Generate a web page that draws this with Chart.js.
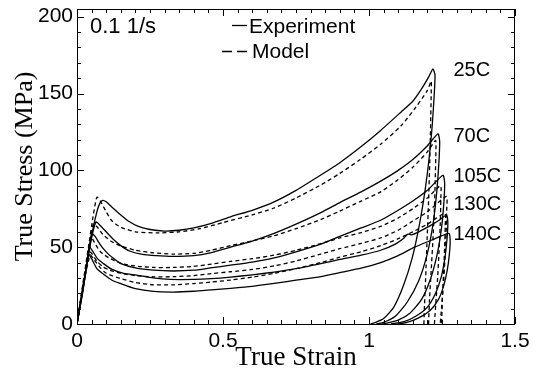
<!DOCTYPE html>
<html lang="en">
<head>
<meta charset="UTF-8">
<title>True Stress vs True Strain</title>
<script src="https://cdn.jsdelivr.net/npm/chart.js"></script>
<style>
  body { margin: 0; background: #fff; }
</style>
</head>
<body>
<canvas id="stress-chart" width="533" height="375"></canvas>
<script>
// axis ticks
const strainTicks = [0, 0.5, 1, 1.5];
const stressTicks = [0, 50, 100, 150, 200];

// temperatures
const tempLabels = ['25C', '70C', '105C', '130C', '140C'];

// [true strain, true stress MPa]
const exp25 = [[0,0],[0.02,24],[0.04,46],[0.055,62],[0.068,73],[0.078,78.5],[0.088,80.5],[0.1,79.5],[0.12,76],[0.15,71],[0.18,66.5],[0.21,63.5],[0.25,61.5],[0.3,60.5],[0.35,61],[0.4,62.5],[0.46,65.5],[0.53,70],[0.6,74],[0.675,79.5],[0.75,87],[0.835,97],[0.9,105],[0.97,115],[1.04,126],[1.11,138],[1.15,145],[1.18,153],[1.205,161],[1.219,166],[1.226,162],[1.223,148],[1.216,128],[1.206,108],[1.192,87],[1.172,64],[1.148,43],[1.118,25],[1.085,11],[1.05,3.5],[1.02,0.8],[1.005,0]];
const mod25 = [[0,0],[0.02,26],[0.04,51],[0.055,70],[0.068,82.5],[0.08,80],[0.1,73],[0.12,67],[0.15,63],[0.2,60],[0.28,59.3],[0.35,60],[0.42,62],[0.5,66],[0.6,71],[0.675,75.5],[0.75,82],[0.835,90.5],[0.9,98],[0.97,107],[1.04,117],[1.11,129],[1.16,141],[1.2,152],[1.213,158],[1.213,150],[1.211,130],[1.208,105],[1.204,80],[1.199,55],[1.194,30],[1.19,12],[1.188,0]];

const exp70 = [[0,0],[0.02,24],[0.04,46],[0.052,58],[0.065,66.4],[0.08,64],[0.1,60],[0.125,55],[0.15,51],[0.18,47.5],[0.22,45.5],[0.27,44.5],[0.33,44],[0.4,44.5],[0.46,46.5],[0.526,50],[0.6,54],[0.675,59],[0.75,65],[0.835,72.5],[0.9,79],[0.973,86],[1.04,93],[1.1,100],[1.15,107],[1.2,116],[1.236,123.8],[1.242,119],[1.239,104],[1.232,86],[1.22,66],[1.2,46],[1.17,28],[1.13,14],[1.09,5],[1.05,1],[1.025,0]];
const mod70 = [[0,0],[0.02,25],[0.04,48],[0.056,65.3],[0.07,63],[0.09,58],[0.12,53.5],[0.148,51],[0.2,48],[0.262,46.3],[0.33,45.5],[0.4,46],[0.46,48],[0.526,51],[0.6,54],[0.675,57.5],[0.75,62],[0.835,68],[0.9,73.5],[0.973,80],[1.04,86],[1.1,94],[1.15,102],[1.2,112],[1.228,119.5],[1.229,112],[1.227,95],[1.224,75],[1.219,55],[1.213,35],[1.207,15],[1.204,0]];

const exp105 = [[0,0],[0.02,22],[0.038,45],[0.05,58.9],[0.062,57],[0.075,53],[0.09,49],[0.11,45],[0.13,42],[0.148,39.5],[0.2,36.5],[0.262,35],[0.33,34.5],[0.4,35],[0.457,36.5],[0.526,38.3],[0.6,40.3],[0.675,43],[0.75,47],[0.835,52],[0.9,57],[0.973,62.5],[1.04,67.5],[1.1,74],[1.15,80],[1.2,87],[1.253,96.8],[1.259,92],[1.256,78],[1.248,62],[1.233,45],[1.21,29],[1.18,16],[1.14,7],[1.1,2.5],[1.06,0.5],[1.045,0]];
const mod105 = [[0,0],[0.02,24],[0.047,56.7],[0.06,53],[0.08,47],[0.113,42.6],[0.16,39],[0.21,37.5],[0.262,36.8],[0.33,36.8],[0.4,37.5],[0.46,39],[0.526,40.7],[0.6,42.5],[0.675,44.8],[0.75,48],[0.835,52.3],[0.9,56],[0.973,59.5],[1.04,63.5],[1.1,69],[1.15,75],[1.2,82],[1.245,90],[1.246,82],[1.244,65],[1.24,48],[1.235,30],[1.229,14],[1.224,0]];

const exp130 = [[0,0],[0.02,22],[0.035,40],[0.042,50.2],[0.055,47],[0.07,42.5],[0.09,39.4],[0.12,35.5],[0.16,33],[0.205,31.8],[0.26,30],[0.32,29],[0.4,29],[0.46,29.5],[0.526,30.5],[0.6,32],[0.675,33.8],[0.75,36],[0.835,39.3],[0.9,42],[0.973,44.8],[1.04,48],[1.09,52],[1.12,56],[1.133,58.5],[1.145,58],[1.17,60],[1.21,64],[1.24,67.5],[1.265,70.8],[1.27,66],[1.267,55],[1.26,43],[1.248,31],[1.228,20],[1.2,11],[1.16,5],[1.12,1.5],[1.075,0]];
const mod130 = [[0,0],[0.02,23],[0.039,48],[0.05,46],[0.07,40.5],[0.09,37],[0.113,35],[0.15,33],[0.2,31.5],[0.262,30.7],[0.33,30.8],[0.4,31.5],[0.46,32.8],[0.526,34],[0.6,35.5],[0.675,37.8],[0.75,41],[0.835,45.5],[0.9,49],[0.973,52.5],[1.04,56],[1.1,61],[1.15,67],[1.2,73],[1.265,83],[1.266,74],[1.264,58],[1.26,42],[1.255,26],[1.249,12],[1.244,0]];

const exp140 = [[0,0],[0.02,21],[0.032,37],[0.039,45.5],[0.05,42.5],[0.068,36],[0.09,32.5],[0.12,28.5],[0.148,26.4],[0.2,23],[0.262,21.2],[0.33,20.8],[0.4,21.3],[0.46,22.2],[0.526,23.2],[0.6,24.5],[0.675,26.4],[0.75,28.5],[0.835,30.9],[0.9,33.5],[0.973,36.3],[1.04,40],[1.1,44.5],[1.156,50],[1.213,54.5],[1.25,57.5],[1.274,58.9],[1.278,54],[1.275,45],[1.268,35],[1.256,25],[1.238,16],[1.21,9],[1.17,4],[1.13,1],[1.1,0]];
const mod140 = [[0,0],[0.02,23],[0.045,44.8],[0.06,41.5],[0.08,36.5],[0.1,33],[0.148,29.7],[0.2,27],[0.262,25.5],[0.33,25.5],[0.4,26.3],[0.46,27.3],[0.526,28.6],[0.6,30.5],[0.675,33],[0.75,36],[0.835,40],[0.9,43.5],[0.973,47],[1.04,51],[1.1,55.5],[1.15,60],[1.2,65],[1.26,72],[1.261,64],[1.259,50],[1.256,35],[1.252,20],[1.25,8],[1.248,0]];

const experiments = [exp25, exp70, exp105, exp130, exp140];
const models = [mod25, mod70, mod105, mod130, mod140];

// where the temperature names sit (stress level next to each peak)
const tempLabelStress = [166, 123, 97, 79, 59.5];

function toPoints(arr) {
    return arr.map(p => ({ x: p[0], y: p[1] }));
}

const datasets = [];
experiments.forEach((d, i) => {
    datasets.push({
        label: 'Experiment ' + tempLabels[i],
        data: toPoints(d),
        borderColor: '#000',
        borderWidth: 1.3,
        pointRadius: 0,
        showLine: true,
        tension: 0.2
    });
});
models.forEach((d, i) => {
    datasets.push({
        label: 'Model ' + tempLabels[i],
        data: toPoints(d),
        borderColor: '#000',
        borderWidth: 1.3,
        borderDash: [4, 3],
        pointRadius: 0,
        showLine: true,
        tension: 0.2
    });
});

// frame, inward ticks, legend and text
const framePlugin = {
    id: 'framePlugin',
    afterDraw(chart) {
        const { ctx, chartArea: a, scales: { x, y } } = chart;
        ctx.save();
        ctx.strokeStyle = '#000';
        ctx.lineWidth = 1;
        ctx.strokeRect(a.left + 0.5, a.top + 0.5, a.right - a.left - 1, a.bottom - a.top);

        ctx.beginPath();
        for (let v = 0; v <= 1.5001; v += 0.05) {
            const px = Math.round(x.getPixelForValue(v)) + 0.5;
            const major = Math.abs(v * 2 - Math.round(v * 2)) < 1e-6;
            const len = major ? 7 : 4;
            ctx.moveTo(px, a.bottom); ctx.lineTo(px, a.bottom - len);
            ctx.moveTo(px, a.top); ctx.lineTo(px, a.top + len);
        }
        for (let v = 0; v <= 205; v += 10) {
            const py = Math.round(y.getPixelForValue(v)) + 0.5;
            const len = v % 50 === 0 ? 7 : 4;
            ctx.moveTo(a.left, py); ctx.lineTo(a.left + len, py);
            ctx.moveTo(a.right, py); ctx.lineTo(a.right - len, py);
        }
        ctx.stroke();

        ctx.fillStyle = '#000';
        ctx.textBaseline = 'alphabetic';
        ctx.textAlign = 'left';
        ctx.font = '22px "Liberation Sans", Arial, sans-serif';
        ctx.fillText('0.1 1/s', 90, 33);

        // legend
        ctx.font = '21px "Liberation Sans", Arial, sans-serif';
        ctx.beginPath();
        ctx.lineWidth = 1.3;
        ctx.moveTo(232, 25.5); ctx.lineTo(247, 25.5);
        ctx.stroke();
        ctx.setLineDash([10, 5]);
        ctx.beginPath();
        ctx.moveTo(222, 51.5); ctx.lineTo(247, 51.5);
        ctx.stroke();
        ctx.setLineDash([]);
        ctx.fillText('Experiment', 249, 33);
        ctx.fillText('Model', 252, 58);

        // temperature names
        ctx.font = '20px "Liberation Sans", Arial, sans-serif';
        tempLabels.forEach((t, i) => {
            ctx.fillText(t, x.getPixelForValue(1.289), y.getPixelForValue(tempLabelStress[i]) + 7);
        });

        // axis titles
        ctx.font = '27px "Liberation Serif", "Times New Roman", serif';
        ctx.textAlign = 'center';
        ctx.fillText('True Strain', (a.left + a.right) / 2, 365);
        ctx.save();
        ctx.translate(32, (a.top + a.bottom) / 2);
        ctx.rotate(-Math.PI / 2);
        ctx.font = '26px "Liberation Serif", "Times New Roman", serif';
        ctx.fillText('True Stress (MPa)', 0, 0);
        ctx.restore();
        ctx.restore();
    }
};

const tickFont = { family: '"Liberation Sans", Arial, sans-serif', size: 21 };

new Chart(document.getElementById('stress-chart').getContext('2d'), {
    type: 'scatter',
    data: { datasets: datasets },
    options: {
        responsive: false,
        animation: false,
        layout: { padding: { top: 9, right: 18, left: 0, bottom: 0 } },
        plugins: {
            legend: { display: false },
            tooltip: { enabled: false }
        },
        scales: {
            x: {
                type: 'linear',
                min: 0,
                max: 1.5,
                grid: { display: false, drawTicks: false },
                border: { display: false },
                afterBuildTicks: s => { s.ticks = strainTicks.map(v => ({ value: v })); },
                afterFit: s => { s.height = 51; s.paddingLeft = 0; s.paddingRight = 0; },
                ticks: {
                    font: tickFont,
                    color: '#000',
                    padding: 5,
                    maxRotation: 0,
                    autoSkip: false,
                    callback: v => String(v)
                }
            },
            y: {
                type: 'linear',
                min: 0,
                max: 205,
                grid: { display: false, drawTicks: false },
                border: { display: false },
                afterBuildTicks: s => { s.ticks = stressTicks.map(v => ({ value: v })); },
                afterFit: s => { s.width = 77; s.paddingTop = 0; s.paddingBottom = 0; },
                ticks: {
                    font: tickFont,
                    color: '#000',
                    padding: 4,
                    autoSkip: false,
                    callback: v => String(v)
                }
            }
        }
    },
    plugins: [framePlugin]
});
</script>
</body>
</html>
